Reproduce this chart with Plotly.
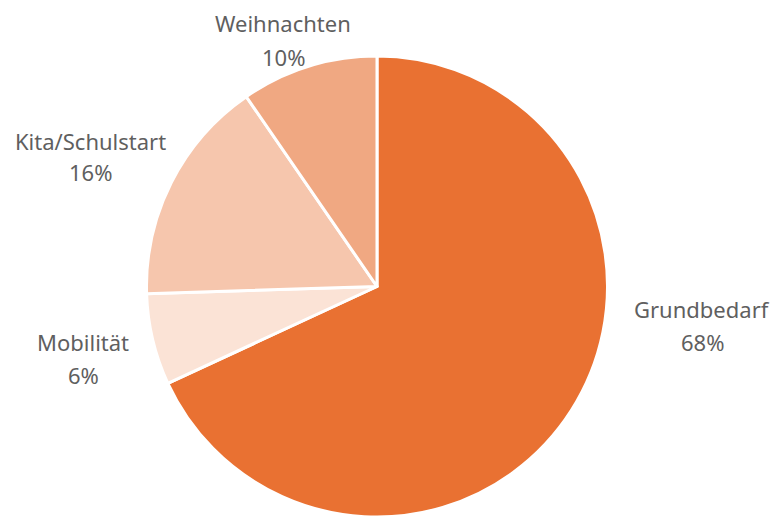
import plotly.graph_objects as go

labels = ["Grundbedarf", "Mobilität", "Kita/Schulstart", "Weihnachten"]
values = [68.1, 6.4, 15.9, 9.6]
colors = ["#E97132", "#FBE3D6", "#F6C6AD", "#F0A882"]

W, H = 771, 517
# label centre positions in pixels (layout only): name line, percent line
label_pos = {
    "Grundbedarf": (702, 309, 342),
    "Mobilität": (83, 342, 375),
    "Kita/Schulstart": (90, 141, 172),
    "Weihnachten": (283, 23, 57),
}

total = sum(values)
fig = go.Figure(go.Pie(
    labels=labels,
    values=values,
    sort=False,
    direction="clockwise",
    rotation=0,
    marker=dict(colors=colors, line=dict(color="white", width=3)),
    textinfo="none",
    hoverinfo="label+percent",
    showlegend=False,
    domain=dict(x=[(377 - 230.5) / W, (377 + 230.5) / W], y=[0, 1 - 56 / H]),
))

font = dict(family="Noto Sans", size=22, color="#5f5f5f")
annotations = []
for lab, val in zip(labels, values):
    px, py1, py2 = label_pos[lab]
    pct = int(val / total * 100 + 0.5)
    annotations.append(dict(x=px / W, y=1 - py1 / H, xref="paper", yref="paper",
                            text=lab, showarrow=False, xanchor="center", yanchor="middle", font=font))
    annotations.append(dict(x=px / W, y=1 - py2 / H, xref="paper", yref="paper",
                            text=f"{pct}%", showarrow=False, xanchor="center", yanchor="middle", font=font))

fig.update_layout(
    width=W, height=H,
    margin=dict(l=0, r=0, t=0, b=0),
    paper_bgcolor="white",
    plot_bgcolor="white",
    annotations=annotations,
)

fig.write_html("out.html", config={"displayModeBar": False},
               post_script="document.body.style.margin='0';")
